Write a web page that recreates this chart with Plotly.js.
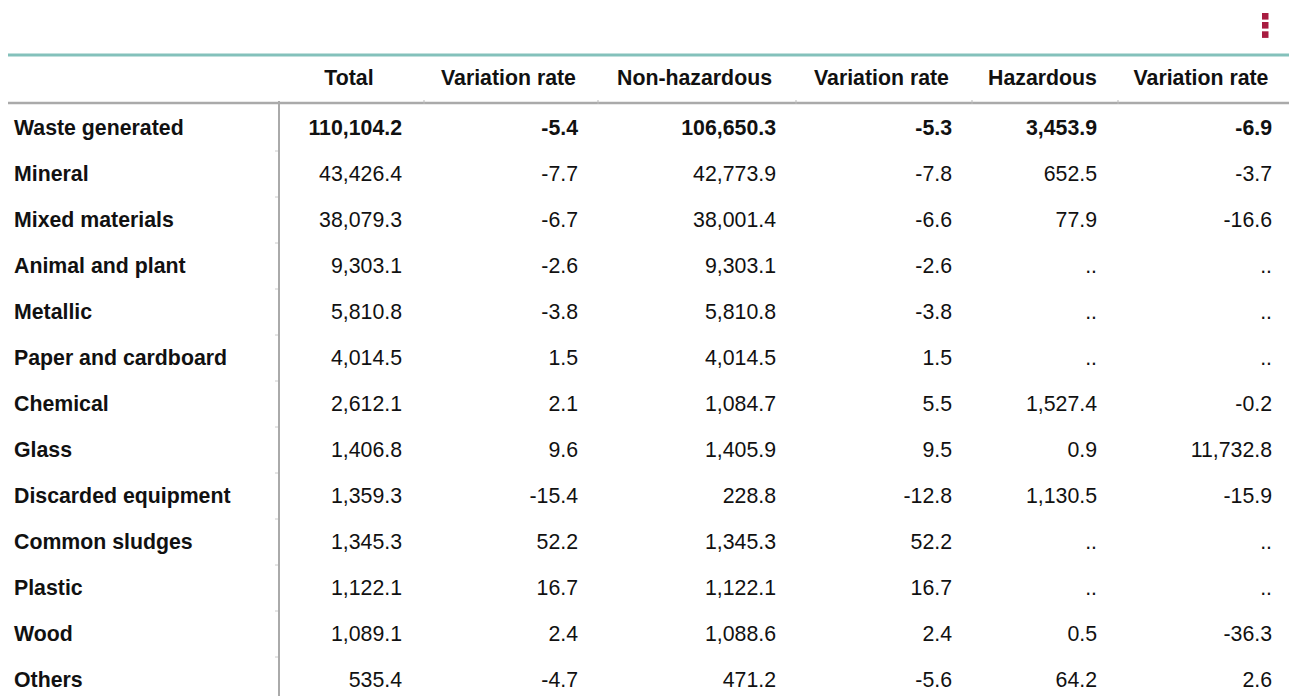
<!DOCTYPE html>
<html><head><meta charset="utf-8">
<script src="https://cdn.plot.ly/plotly-3.0.1.min.js"></script>
<style>html,body{margin:0;padding:0;background:#fff}#chart{width:1289px;height:696px}</style>
</head><body><div id="chart"></div>
<script>
// ---- data ----
const categories = ["Waste generated","Mineral","Mixed materials","Animal and plant","Metallic","Paper and cardboard","Chemical","Glass","Discarded equipment","Common sludges","Plastic","Wood","Others"];
const columnHeaders = ["Total","Variation rate","Non-hazardous","Variation rate","Hazardous","Variation rate"];
const total = [110104.2,43426.4,38079.3,9303.1,5810.8,4014.5,2612.1,1406.8,1359.3,1345.3,1122.1,1089.1,535.4];
const totalRate = [-5.4,-7.7,-6.7,-2.6,-3.8,1.5,2.1,9.6,-15.4,52.2,16.7,2.4,-4.7];
const nonHazardous = [106650.3,42773.9,38001.4,9303.1,5810.8,4014.5,1084.7,1405.9,228.8,1345.3,1122.1,1088.6,471.2];
const nonHazardousRate = [-5.3,-7.8,-6.6,-2.6,-3.8,1.5,5.5,9.5,-12.8,52.2,16.7,2.4,-5.6];
const hazardous = [3453.9,652.5,77.9,null,null,null,1527.4,0.9,1130.5,null,null,0.5,64.2];
const hazardousRate = [-6.9,-3.7,-16.6,null,null,null,-0.2,11732.8,-15.9,null,null,-36.3,2.6];

// ---- layout geometry (pixel units of the axes) ----
const W = 1289, H = 696;
const colBounds = [279,424,598,796,972,1118,1289];
const valueRight = [402,578,776,952,1097,1272];
const headerY = 79.5, firstRowY = 129.5, rowH = 46;
const FONT = "Arial, 'Liberation Sans', Helvetica, sans-serif";
const FS = 21.3;
const INK = '#111111';

const series = [total,totalRate,nonHazardous,nonHazardousRate,hazardous,hazardousRate];
const fmt = v => v === null ? '..' : v.toLocaleString('en-US',{minimumFractionDigits:1,maximumFractionDigits:1});
const rowY = categories.map((c,i) => firstRowY + i*rowH);

const traces = [];
// row labels
traces.push({
  type:'scatter', mode:'text', x: categories.map(()=>14), y: rowY,
  text: categories.map(c => '<b>'+c+'</b>'), textposition:'middle right',
  textfont:{family:FONT,size:FS,color:INK}, marker:{size:0}, hoverinfo:'skip', showlegend:false
});
// headers
traces.push({
  type:'scatter', mode:'text',
  x: columnHeaders.map((h,i)=> (colBounds[i]+colBounds[i+1])/2 - 2.5),
  y: columnHeaders.map(()=>headerY),
  text: columnHeaders.map(h=>'<b>'+h+'</b>'), textposition:'middle center',
  textfont:{family:FONT,size:FS,color:INK}, marker:{size:0}, hoverinfo:'skip', showlegend:false
});
// values
series.forEach((s,ci)=>{
  traces.push({
    type:'scatter', mode:'text', x: s.map(()=>valueRight[ci]), y: rowY,
    text: s.map((v,ri)=> ri===0 ? '<b>'+fmt(v)+'</b>' : fmt(v)),
    textposition:'middle left',
    textfont:{family:FONT,size:FS,color:INK}, marker:{size:0}, hoverinfo:'skip', showlegend:false
  });
});

const shapes = [];
const GRAY = '#aaaaaa';
// teal top rule
shapes.push({type:'line',xref:'x',yref:'y',x0:8,x1:W,y0:55,y1:55,line:{color:'#84c1bb',width:3}});
// header rule
shapes.push({type:'line',xref:'x',yref:'y',x0:8,x1:W,y0:103,y1:103,line:{color:GRAY,width:2.5}});
// vertical rule
shapes.push({type:'line',xref:'x',yref:'y',x0:279,x1:279,y0:101,y1:H,line:{color:GRAY,width:2}});
// small column ticks on header rule
colBounds.slice(1,-1).forEach(x=>{
  shapes.push({type:'line',xref:'x',yref:'y',x0:x,x1:x,y0:100,y1:104,line:{color:'#bbbbbb',width:1}});
});
// small row ticks on vertical rule
categories.slice(1).forEach((c,i)=>{
  const y = firstRowY - 1.5 + (i+0.5)*rowH;
  shapes.push({type:'line',xref:'x',yref:'y',x0:275,x1:278,y0:y,y1:y,line:{color:'#cccccc',width:1}});
});
// menu icon
[13,22,31.3].forEach(y0=>{
  shapes.push({type:'rect',xref:'x',yref:'y',x0:1262,x1:1268.5,y0:y0,y1:y0+6.6,line:{width:0},fillcolor:'#a81c40'});
});

const layout = {
  width:W, height:H, margin:{l:0,r:0,t:0,b:0},
  paper_bgcolor:'#ffffff', plot_bgcolor:'#ffffff',
  xaxis:{range:[0,W],visible:false,fixedrange:true},
  yaxis:{range:[H,0],visible:false,fixedrange:true},
  shapes:shapes, showlegend:false, hovermode:false
};
Plotly.newPlot('chart',traces,layout,{displayModeBar:false,staticPlot:true});
</script></body></html>
